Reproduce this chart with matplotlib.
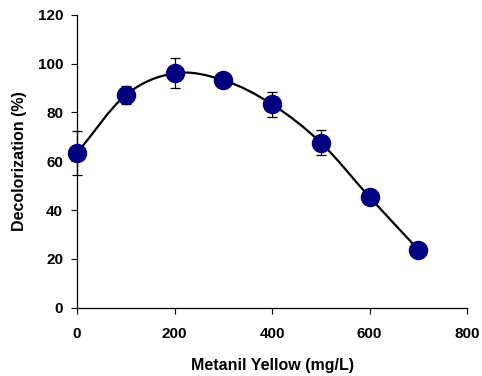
import matplotlib
matplotlib.use("Agg")
import matplotlib.pyplot as plt
from matplotlib.path import Path
from matplotlib.patches import PathPatch
import numpy as np

plt.rcParams['font.family'] = ['Liberation Sans', 'DejaVu Sans']
plt.rcParams['font.weight'] = 'bold'

concentration = [0, 100, 200, 300, 400, 500, 600, 700]
decolorization = [63.4, 87.1, 96.0, 93.2, 83.3, 67.6, 45.3, 23.8]
error = [9.0, 3.5, 6.2, 1.0, 5.0, 5.1, 1.0, 1.0]
x_ticks = [0, 200, 400, 600, 800]
y_ticks = [0, 20, 40, 60, 80, 100, 120]

fig = plt.figure(figsize=(4.82, 3.76), dpi=100)
ax = fig.add_axes([0.16, 0.1816, 0.809, 0.7794])

# Smoothed line (Excel-style Bezier through points)
xs = np.array(concentration, float)
ys = np.array(decolorization, float)
pts = np.column_stack([xs, ys])
ext = np.vstack([2 * pts[0] - pts[1], pts, 2 * pts[-1] - pts[-2]])
verts = [tuple(pts[0])]
codes = [Path.MOVETO]
for i in range(1, len(ext) - 2):
    p0, p1, p2, p3 = ext[i - 1], ext[i], ext[i + 1], ext[i + 2]
    c1 = p1 + (p2 - p0) / 6.0
    c2 = p2 - (p3 - p1) / 6.0
    verts += [tuple(c1), tuple(c2), tuple(p2)]
    codes += [Path.CURVE4] * 3
ax.add_patch(PathPatch(Path(verts, codes), facecolor='none', edgecolor='black',
                       lw=1.6, zorder=2))

eb = ax.errorbar(concentration, decolorization, yerr=error, fmt='none', ecolor='black',
                 elinewidth=0.9, capsize=3.5, capthick=0.9, zorder=3)
for art in eb.lines[1] + eb.lines[2]:
    art.set_clip_on(False)
ax.plot(concentration, decolorization, 'o', color='#000080', markersize=13,
        markeredgecolor='#000080', zorder=4, clip_on=False)

ax.set_xlim(0, 800)
ax.set_ylim(0, 120)
ax.set_xticks(x_ticks)
ax.set_yticks(y_ticks)
ax.tick_params(direction='out', length=4, width=0.8, labelsize=11)
ax.tick_params(axis='x', pad=10)
ax.tick_params(axis='y', pad=6)
for lab in ax.get_xticklabels() + ax.get_yticklabels():
    lab.set_fontweight('bold')
for s in ['top', 'right']:
    ax.spines[s].set_visible(False)
for s in ['left', 'bottom']:
    ax.spines[s].set_linewidth(0.9)

ax.set_xlabel('Metanil Yellow (mg/L)', fontsize=11.5, fontweight='bold', labelpad=12)
ax.set_ylabel('Decolorization (%)', fontsize=11.5, fontweight='bold', labelpad=8)

fig.savefig('out.png', dpi=100)
